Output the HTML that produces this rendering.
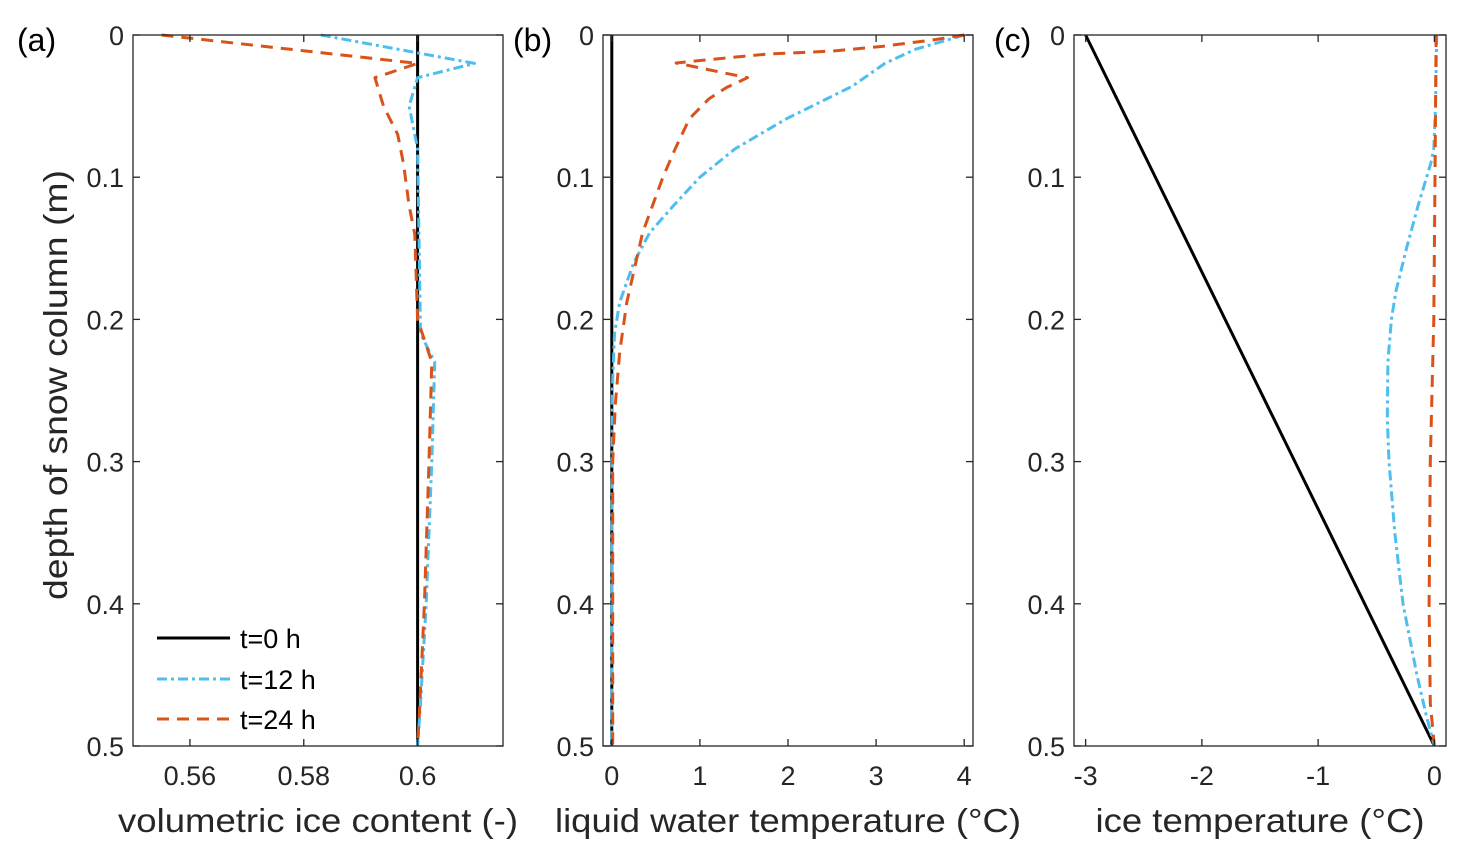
<!DOCTYPE html>
<html><head><meta charset="utf-8"><style>
html,body{margin:0;padding:0;background:#fff;}
svg{display:block;font-family:"Liberation Sans",Arial,sans-serif;}
</style></head><body>
<svg id="chart" width="1467" height="860" viewBox="0 0 1467 860"></svg>
<script>
// ---- data ----
const depthTicks = [0, 0.1, 0.2, 0.3, 0.4, 0.5];
const depthTickLabels = ["0", "0.1", "0.2", "0.3", "0.4", "0.5"];
const seriesNames = ["t=0 h", "t=12 h", "t=24 h"];

// panel a: volumetric ice content
const aTicks = [0.56, 0.58, 0.6];
const aTickLabels = ["0.56", "0.58", "0.6"];
const aBlackDepth = [0, 0.5];
const aBlackVal = [0.6, 0.6];
const aBlueDepth = [0, 0.02, 0.03, 0.05, 0.08, 0.21, 0.23, 0.3, 0.4, 0.47, 0.5];
const aBlueVal = [0.583, 0.61, 0.6, 0.5985, 0.6, 0.6005, 0.603, 0.6025, 0.6015, 0.6005, 0.6];
const aOrangeDepth = [0, 0.02, 0.03, 0.05, 0.07, 0.09, 0.12, 0.14, 0.2, 0.23, 0.3, 0.4, 0.47, 0.5];
const aOrangeVal = [0.555, 0.6, 0.5925, 0.594, 0.5965, 0.5975, 0.5985, 0.5995, 0.6, 0.6025, 0.602, 0.6012, 0.6004, 0.6];

// panel b: liquid water temperature
const bTicks = [0, 1, 2, 3, 4];
const bTickLabels = ["0", "1", "2", "3", "4"];
const bBlackDepth = [0, 0.5];
const bBlackVal = [0, 0];
const bBlueDepth = [0, 0.01, 0.02, 0.036, 0.059, 0.08, 0.1, 0.12, 0.139, 0.16, 0.188, 0.21, 0.25, 0.5];
const bBlueVal = [4, 3.45, 3.1, 2.73, 1.98, 1.4, 1.0, 0.7, 0.43, 0.25, 0.09, 0.03, 0.005, 0];
const bOrangeDepth = [0, 0.0035, 0.008, 0.0113, 0.0134, 0.018, 0.0197, 0.03, 0.037, 0.045, 0.059, 0.08, 0.1, 0.139, 0.188, 0.223, 0.26, 0.3, 0.5];
const bOrangeVal = [4, 3.64, 3.07, 2.5, 1.76, 0.99, 0.73, 1.54, 1.3, 1.1, 0.88, 0.72, 0.58, 0.35, 0.17, 0.09, 0.04, 0.01, 0.01];

// panel c: ice temperature
const cTicks = [-3, -2, -1, 0];
const cTickLabels = ["-3", "-2", "-1", "0"];
const cBlackDepth = [0, 0.5];
const cBlackVal = [-3, 0];
const cBlueDepth = [0, 0.05, 0.08, 0.09, 0.12, 0.15, 0.18, 0.2, 0.23, 0.27, 0.3, 0.35, 0.4, 0.45, 0.48, 0.5];
const cBlueVal = [0.02, 0.01, -0.005, -0.03, -0.14, -0.24, -0.33, -0.37, -0.4, -0.405, -0.39, -0.34, -0.27, -0.15, -0.065, 0];
const cOrangeDepth = [0, 0.1, 0.2, 0.3, 0.4, 0.47, 0.5];
const cOrangeVal = [0.015, 0.005, -0.005, -0.035, -0.045, -0.035, 0];

// ---- drawing ----
const svg = document.getElementById('chart');
const NS = 'http://www.w3.org/2000/svg';
const TOP = 35, BOT = 746;
const yOf = d => TOP + (d - 0) / 0.5 * (BOT - TOP);
const styles = [
  {stroke: '#000000', dash: null},
  {stroke: '#4DBEEE', dash: '10 4 3 4'},
  {stroke: '#D95319', dash: '12 8'}
];
function mk(tag, attrs) {
  const e = document.createElementNS(NS, tag);
  for (const k in attrs) e.setAttribute(k, attrs[k]);
  return e;
}
const panels = [
  {key: 'a', x0: 133, x1: 503, lo: 0.55, hi: 0.615, ticks: aTicks, labels: aTickLabels, title: 'volumetric ice content (-)', tw: 400, lx: 17,
   series: [[aBlackDepth, aBlackVal], [aBlueDepth, aBlueVal], [aOrangeDepth, aOrangeVal]]},
  {key: 'b', x0: 603, x1: 973, lo: -0.1, hi: 4.1, ticks: bTicks, labels: bTickLabels, title: 'liquid water temperature (°C)', tw: 466, lx: 513,
   series: [[bBlackDepth, bBlackVal], [bBlueDepth, bBlueVal], [bOrangeDepth, bOrangeVal]]},
  {key: 'c', x0: 1074, x1: 1446, lo: -3.1, hi: 0.1, ticks: cTicks, labels: cTickLabels, title: 'ice temperature (°C)', tw: 329, lx: 994,
   series: [[cBlackDepth, cBlackVal], [cBlueDepth, cBlueVal], [cOrangeDepth, cOrangeVal]]}
];
panels.forEach(p => {
  const xOf = v => p.x0 + (v - p.lo) / (p.hi - p.lo) * (p.x1 - p.x0);
  const g = mk('g', {});
  
  
  svg.appendChild(g);
  p.series.forEach((s, i) => {
    const pts = s[0].map((d, j) => xOf(s[1][j]).toFixed(1) + ',' + yOf(d).toFixed(1)).join(' ');
    const pl = mk('polyline', {points: pts, fill: 'none', stroke: styles[i].stroke, 'stroke-width': 3, 'stroke-linejoin': 'round'});
    if (styles[i].dash) pl.setAttribute('stroke-dasharray', styles[i].dash);
    
    
    g.appendChild(pl);
  });
  const box = mk('rect', {x: p.x0, y: TOP, width: p.x1 - p.x0, height: BOT - TOP, fill: 'none', stroke: '#262626', 'stroke-width': 1.3});
  
  
  g.appendChild(box);
  depthTicks.forEach((d, i) => {
    const y = yOf(d);
    g.appendChild(mk('line', {x1: p.x0, x2: p.x0 + 7, y1: y, y2: y, stroke: '#262626', 'stroke-width': 1.3}));
    g.appendChild(mk('line', {x1: p.x1, x2: p.x1 - 7, y1: y, y2: y, stroke: '#262626', 'stroke-width': 1.3}));
    const t = mk('text', {x: p.x0 - 9, y: y + 10, 'text-anchor': 'end', 'font-size': 27, fill: '#262626'});
    t.textContent = depthTickLabels[i];
    
    
    g.appendChild(t);
  });
  p.ticks.forEach((v, i) => {
    const x = xOf(v);
    g.appendChild(mk('line', {x1: x, x2: x, y1: BOT, y2: BOT - 7, stroke: '#262626', 'stroke-width': 1.3}));
    g.appendChild(mk('line', {x1: x, x2: x, y1: TOP, y2: TOP + 7, stroke: '#262626', 'stroke-width': 1.3}));
    const t = mk('text', {x: x, y: 785, 'text-anchor': 'middle', 'font-size': 27, fill: '#262626'});
    t.textContent = p.labels[i];
    
    
    g.appendChild(t);
  });
  const xt = mk('text', {x: (p.x0 + p.x1) / 2, y: 832, 'text-anchor': 'middle', 'font-size': 33, fill: '#262626', textLength: p.tw, lengthAdjust: 'spacingAndGlyphs'});
  xt.textContent = p.title;
  
  
  g.appendChild(xt);
  const pl = mk('text', {x: p.lx, y: 51, 'font-size': 32, fill: '#000'});
  pl.textContent = '(' + p.key + ')';
  
  
  g.appendChild(pl);
});
const yt = mk('text', {x: 0, y: 0, 'text-anchor': 'middle', 'font-size': 33, fill: '#262626', transform: 'translate(67,385) rotate(-90)', textLength: 430, lengthAdjust: 'spacingAndGlyphs'});
yt.textContent = 'depth of snow column (m)';


svg.appendChild(yt);
const lg = mk('g', {});


svg.appendChild(lg);
const legY = [638, 679, 719];
seriesNames.forEach((n, i) => {
  const ln = mk('line', {x1: 157, x2: 230, y1: legY[i], y2: legY[i], stroke: styles[i].stroke, 'stroke-width': 3});
  if (styles[i].dash) ln.setAttribute('stroke-dasharray', styles[i].dash);
  
  
  lg.appendChild(ln);
  const t = mk('text', {x: 240, y: legY[i] + 10, 'font-size': 27, fill: '#000'});
  t.textContent = n;
  
  
  lg.appendChild(t);
});
</script>
</body></html>
